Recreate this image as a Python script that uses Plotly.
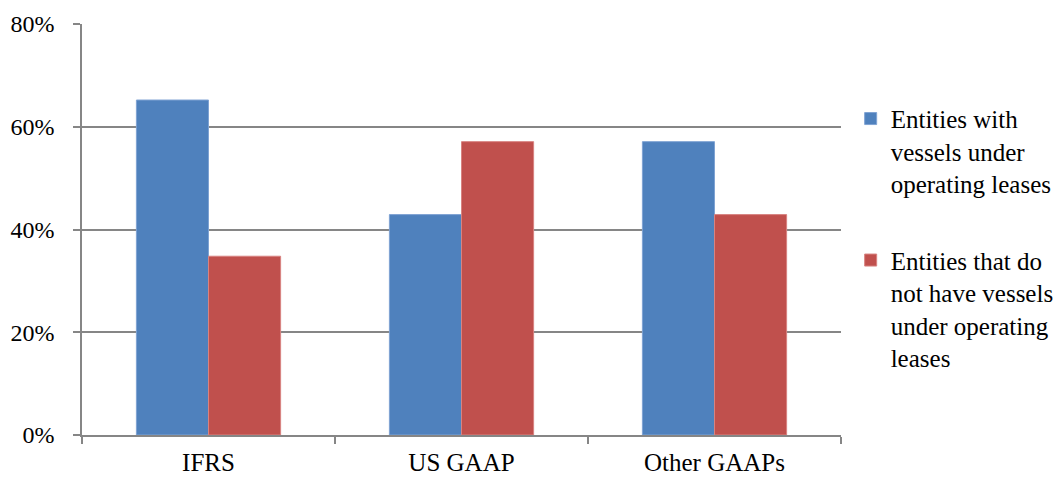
import plotly.graph_objects as go

categories = ["IFRS", "US GAAP", "Other GAAPs"]
with_leases = [0.652, 0.429, 0.571]
without_leases = [0.348, 0.571, 0.429]
series_names = ["Entities with<br>vessels under<br>operating leases",
                "Entities that do<br>not have vessels<br>under operating<br>leases"]
y_ticks = [0, 0.2, 0.4, 0.6, 0.8]

font_family = "Liberation Serif"

fig = go.Figure()
fig.add_trace(go.Bar(x=categories, y=with_leases, name=series_names[0], legendgroup="a",
                     marker=dict(color="#4F81BD", line=dict(color="#7FA3D3", width=1))))
fig.add_trace(go.Bar(x=categories, y=without_leases, name=series_names[1], legendgroup="b",
                     marker=dict(color="#C0504D", line=dict(color="#D88380", width=1))))

fig.update_layout(
    width=1062, height=479,
    margin=dict(l=82, r=221, t=24, b=44, autoexpand=False),
    paper_bgcolor="white", plot_bgcolor="white",
    barmode="group", bargap=0.43, bargroupgap=0,
    font=dict(family=font_family, size=24, color="black"),
    legend=dict(xref="container", yref="container", x=0.801, y=0.80,
                xanchor="left", yanchor="top", maxheight=460,
                font=dict(family=font_family, size=25, color="black"),
                tracegroupgap=41, itemwidth=30, traceorder="grouped",
                valign="top", bgcolor="rgba(0,0,0,0)"),
    showlegend=True,
)
fig.update_xaxes(showline=True, linecolor="#868686", linewidth=1.5,
                 ticks="outside", tickson="boundaries", ticklen=7,
                 tickcolor="#868686", tickwidth=1.5, automargin=False,
                 ticklabelstandoff=4,
                 tickfont=dict(family=font_family, size=25, color="black"),
                 showgrid=False)
fig.update_yaxes(range=[0, 0.8], tickvals=y_ticks, tickformat=".0%",
                 showline=True, linecolor="#868686", linewidth=1.5,
                 ticks="outside", ticklen=7, tickcolor="#868686", tickwidth=1.5,
                 showgrid=True, gridcolor="#868686", gridwidth=1.5,
                 automargin=False, ticklabelstandoff=14,
                 tickfont=dict(family=font_family, size=24, color="black"),
                 zeroline=False)

fig.write_html("out.html", config={"displayModeBar": False},
               post_script="document.body.style.margin='0';")
